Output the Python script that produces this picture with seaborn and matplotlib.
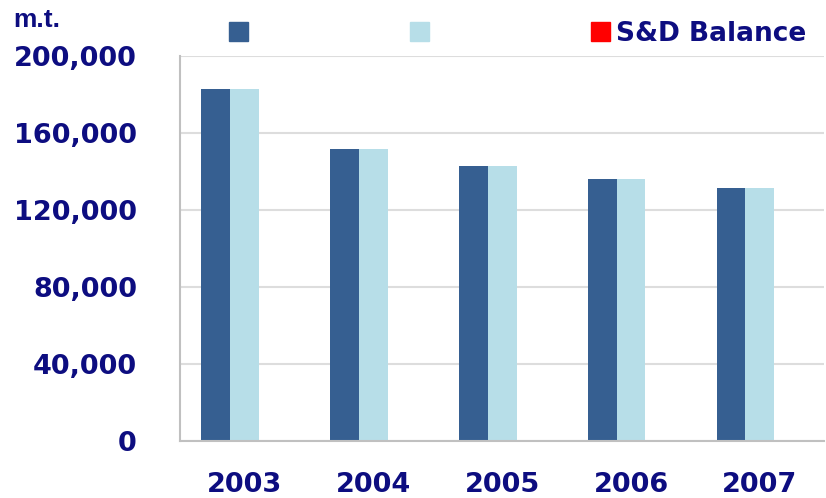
import matplotlib
matplotlib.use('Agg')
import matplotlib.pyplot as plt
import matplotlib.ticker as mticker
import seaborn as sns
import pandas as pd

years = ['2003', '2004', '2005', '2006', '2007']
series_a = [183000, 151500, 142700, 136000, 131300]
series_b = [183000, 151500, 142700, 136000, 131300]
balance = [0, 0, 0, 0, 0]
series_names = ['Series 1', 'Series 2', 'S&D Balance']
legend_labels = ['', '', 'S&D Balance']
yticks = [0, 40000, 80000, 120000, 160000, 200000]

navy = '#0D0D80'
colors = ['#365F91', '#B7DEE8', '#FF0000']

df = pd.DataFrame({
    'year': years * 3,
    'series': [series_names[0]] * 5 + [series_names[1]] * 5 + [series_names[2]] * 5,
    'value': series_a + series_b + balance,
})

sns.set_style('white')
plt.rcParams['font.family'] = ['DejaVu Sans']

fig = plt.figure(figsize=(8.26, 4.98), dpi=100)
ax = fig.add_axes([180 / 826, 1 - 441 / 498, 1 - 180 / 826 - 0.002, (441 - 56) / 498])

sns.barplot(data=df, x='year', y='value', hue='series', palette=colors,
            width=0.673, ax=ax, saturation=1, legend=False,
            edgecolor='none', linewidth=0)

ax.set_ylim(0, 200000)
ax.set_yticks(yticks)
ax.yaxis.set_major_formatter(mticker.FuncFormatter(lambda v, p: f'{int(v):,}'))
ax.set_xlabel('')
ax.set_ylabel('')
ax.grid(axis='y', color='#DDDDDD', linewidth=1.5)
ax.set_axisbelow(True)
for s in ['left', 'bottom']:
    ax.spines[s].set_color('#C0C0C0')
    ax.spines[s].set_linewidth(1.5)
ax.spines['top'].set_visible(False)
ax.spines['right'].set_visible(False)

ax.tick_params(axis='y', length=0, pad=31, labelsize=19.5, labelcolor=navy)
ax.tick_params(axis='x', length=0, pad=22, labelsize=19.5, labelcolor=navy)
for lab in ax.get_xticklabels() + ax.get_yticklabels():
    lab.set_fontweight('bold')

fig.text(13 / 826, 1 - 27 / 498, 'm.t.', fontsize=19, fontweight='bold', color=navy,
         family='Liberation Sans')

handles = [plt.Rectangle((0, 0), 1, 1, color=c) for c in colors]
fig.legend(handles, legend_labels, loc='upper left', bbox_to_anchor=(229 / 826, 1 - 21 / 498),
           ncol=3, frameon=False, prop={'weight': 'bold', 'size': 19},
           handlelength=0.72, handleheight=0.72, handletextpad=0.23, columnspacing=5.9,
           borderpad=0, borderaxespad=0, labelcolor=navy)

fig.savefig('out.png', dpi=100)
